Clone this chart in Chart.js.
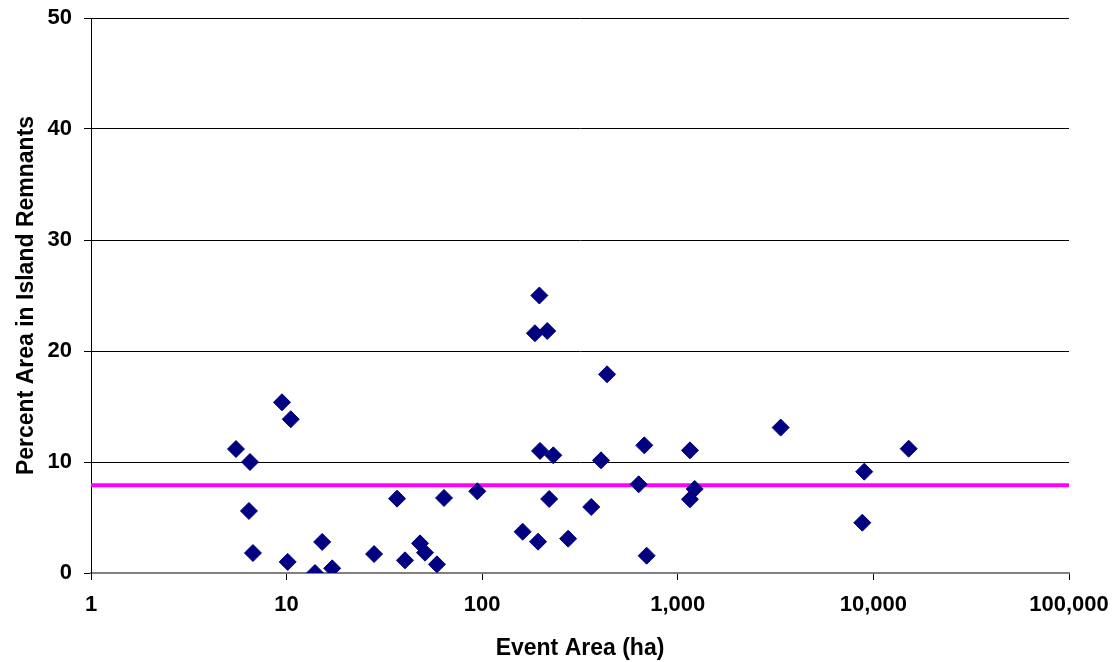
<!DOCTYPE html>
<html>
<head>
<meta charset="utf-8">
<script src="https://cdn.jsdelivr.net/npm/chart.js@4"></script>
<style>
  html, body { margin: 0; padding: 0; background: #fff; }
  #chart { display: block; }
</style>
</head>
<body>
<canvas id="chart" width="1115" height="662"></canvas>
<script>
// event area (ha) and percent area in island remnants
const eventArea = [
  5.51, 6.42, 6.50, 6.73, 9.47, 10.13, 10.5, 13.97, 15.2, 17.1,
  28.0, 36.7, 40.3, 48.1, 51.0, 58.7, 63.8, 94.4, 161, 186,
  193, 196, 197.5, 215, 220, 231, 275, 361, 405, 435,
  631, 674, 693, 1154, 1154, 1220, 3357, 8775, 8980, 15150
];
const percentIsland = [
  11.17, 5.59, 10.0, 1.8, 15.38, 1.0, 13.85, 0.0, 2.8, 0.42,
  1.71, 6.7, 1.14, 2.67, 1.83, 0.78, 6.76, 7.36, 3.72, 21.6,
  2.82, 25.0, 11.0, 21.8, 6.67, 10.6, 3.09, 5.95, 10.15, 17.9,
  7.99, 11.5, 1.56, 11.05, 6.64, 7.57, 13.1, 4.53, 9.13, 11.2
];
const meanPercent = 7.9;
const xTicks = [1, 10, 100, 1000, 10000, 100000];
const yTicks = [0, 10, 20, 30, 40, 50];

const font = 'Arial, "Liberation Sans", sans-serif';

const points = eventArea.map((x, i) => ({ x, y: percentIsland[i] }));
const meanLine = [
  { x: xTicks[0], y: meanPercent },
  { x: xTicks[xTicks.length - 1], y: meanPercent }
];

// let layout.padding alone decide where the plot area sits
function noLabelPadding(s) {
  s.paddingTop = 0;
  s.paddingBottom = 0;
  s.paddingLeft = 0;
  s.paddingRight = 0;
}

new Chart(document.getElementById('chart'), {
  type: 'scatter',
  data: {
    datasets: [
      {
        label: 'Events',
        data: points,
        pointStyle: 'rectRot',
        pointRadius: 8.5,
        pointHoverRadius: 8.5,
        backgroundColor: '#000080',
        borderColor: '#000080',
        borderWidth: 1,
        order: 1
      },
      {
        type: 'line',
        label: 'Mean',
        data: meanLine,
        borderColor: '#FF00FF',
        borderWidth: 4,
        pointRadius: 0,
        fill: false,
        order: 2
      }
    ]
  },
  options: {
    responsive: false,
    animation: false,
    layout: { padding: { top: 18, right: 46, bottom: 0, left: 0 } },
    plugins: {
      legend: { display: false },
      tooltip: { enabled: false }
    },
    scales: {
      x: {
        type: 'logarithmic',
        min: 1,
        max: 100000,
        afterBuildTicks: s => { s.ticks = xTicks.map(v => ({ value: v })); },
        afterFit: s => { s.height = 89; noLabelPadding(s); },
        ticks: {
          color: '#000',
          font: { family: font, size: 22, weight: 'bold' },
          padding: 12,
          maxRotation: 0,
          autoSkip: false,
          callback: v => Number(v).toLocaleString('en-US')
        },
        grid: {
          drawOnChartArea: false,
          drawTicks: true,
          tickLength: 7,
          color: '#000'
        },
        border: { color: '#808080', width: 2 },
        title: {
          display: true,
          text: 'Event Area (ha)',
          color: '#000',
          font: { family: font, size: 23, weight: 'bold' },
          padding: { top: 0, bottom: 0 }
        }
      },
      y: {
        min: 0,
        max: 50,
        afterBuildTicks: s => { s.ticks = yTicks.map(v => ({ value: v })); },
        afterFit: s => { s.width = 91; noLabelPadding(s); },
        ticks: {
          color: '#000',
          font: { family: font, size: 22, weight: 'bold' },
          padding: 12
        },
        grid: {
          color: '#000',
          lineWidth: 1,
          drawTicks: true,
          tickLength: 7
        },
        border: { color: '#000', width: 1 },
        title: {
          display: true,
          text: 'Percent Area in Island Remnants',
          color: '#000',
          font: { family: font, size: 23, weight: 'bold' },
          padding: { top: 13, bottom: 0 }
        }
      }
    }
  }
});
</script>
</body>
</html>
